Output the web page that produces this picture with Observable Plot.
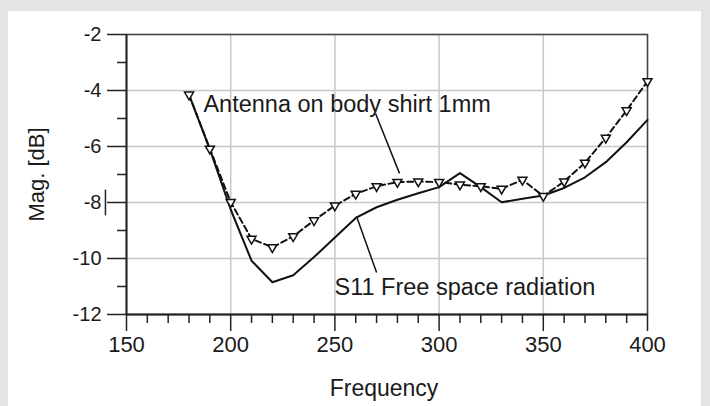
<!DOCTYPE html>
<html><head><meta charset="utf-8">
<script src="https://cdn.jsdelivr.net/npm/d3@7"></script>
<script src="https://cdn.jsdelivr.net/npm/@observablehq/plot@0.6"></script>
<style>
html,body{margin:0;padding:0;background:#e4e4e4;width:710px;height:406px;overflow:hidden;}
#panel{position:absolute;left:8px;top:11px;width:693px;height:395px;background:#fff;}
#chart{position:absolute;left:0;top:0;}
</style></head><body><div id="panel"></div><div id="chart"></div>
<script>
// Frequency samples
const freq = [180,190,200,210,220,230,240,250,260,270,280,290,300,310,320,330,340,350,360,370,380,390,400];
// Antenna on body shirt 1mm (dashed, triangles)
const onBody = [-4.15,-6.08,-7.99,-9.30,-9.60,-9.21,-8.64,-8.11,-7.69,-7.42,-7.27,-7.25,-7.27,-7.36,-7.42,-7.51,-7.19,-7.77,-7.25,-6.58,-5.69,-4.71,-3.67];
// S11 Free space radiation (solid)
const freeSpace = [-4.15,-6.10,-8.25,-10.08,-10.85,-10.60,-9.95,-9.25,-8.55,-8.17,-7.90,-7.67,-7.45,-6.95,-7.45,-7.99,-7.87,-7.75,-7.48,-7.10,-6.56,-5.85,-5.05];

// Ticks
const xMajor = [150,200,250,300,350,400];
const xLabels = ["150","200","250","300","350","400"];
const xMinor = [160,170,180,190,210,220,230,240,260,270,280,290,310,320,330,340,360,370,380,390];
const yMajor = [-2,-4,-6,-8,-10,-12];
const yLabels = ["-2","-4","-6","-8","-10","-12"];
const yMinor = [-3,-5,-7,-9,-11];

// Annotations (data coordinates)
const annText = ["Antenna on body shirt 1mm", "S11 Free space radiation"];
const annX = [186.9, 249.8];
const annY = [-4.51, -11.02];
const ptrX1 = [269.5, 260.4];
const ptrY1 = [-4.82, -8.50];
const ptrX2 = [281.0, 270.0];
const ptrY2 = [-6.96, -10.50];
const markX = [139.9];
const markY1 = [-7.54];
const markY2 = [-8.46];
const yTitle = ["Mag. [dB]"];
const yTitleY = [-7.0];
const xTitle = ["Frequency"];

const rows = freq.map((f, i) => ({f, body: onBody[i], free: freeSpace[i]}));
const font = "'Liberation Sans', Arial, sans-serif";

const plot = Plot.plot({
  width: 710, height: 406,
  marginLeft: 126, marginRight: 63, marginTop: 34, marginBottom: 92,
  style: {background: "transparent", fontFamily: font, color: "#1a1a1a", overflow: "visible"},
  x: {domain: [150, 400]},
  y: {domain: [-12, -2]},
  marks: [
    Plot.gridX(xMajor, {stroke: "#c8c8c8", strokeOpacity: 1, strokeWidth: 1.5}),
    Plot.gridY(yMajor, {stroke: "#c8c8c8", strokeOpacity: 1, strokeWidth: 1.5}),
    Plot.frame({stroke: "#444", strokeWidth: 1.5}),
    Plot.ruleX([150], {stroke: "#222", strokeWidth: 1.8}),
    Plot.ruleY([-12], {stroke: "#222", strokeWidth: 1.8}),
    Plot.axisY(yMinor, {tickSize: 9, tickFormat: () => "", label: null, strokeWidth: 1.5, stroke: "#222"}),
    Plot.axisY(yMajor, {tickSize: 19, tickPadding: 6, fontSize: 20, label: null, strokeWidth: 1.5, stroke: "#222",
      tickFormat: d => yLabels[yMajor.indexOf(d)]}),
    Plot.axisX(xMinor, {tickSize: 9, tickFormat: () => "", label: null, strokeWidth: 1.5, stroke: "#222"}),
    Plot.axisX(xMajor, {tickSize: 17, tickPadding: 5, fontSize: 22, label: null, strokeWidth: 1.5, stroke: "#222",
      tickFormat: d => xLabels[xMajor.indexOf(d)]}),
    Plot.link(markX, {x1: markX, x2: markX, y1: markY1, y2: markY2, stroke: "#222", strokeWidth: 1.5}),
    Plot.line(rows, {x: "f", y: "free", stroke: "#111", strokeWidth: 2}),
    Plot.line(rows, {x: "f", y: "body", stroke: "#111", strokeWidth: 2, strokeDasharray: "6,3.5"}),
    Plot.dot(rows, {x: "f", y: "body", symbol: "triangle2", r: 4.3, rotate: 180, fill: "white", stroke: "#111", strokeWidth: 1.5}),
    Plot.link(annText, {x1: ptrX1, y1: ptrY1, x2: ptrX2, y2: ptrY2, stroke: "#111", strokeWidth: 1.5}),
    Plot.text(annText, {x: annX, y: annY, text: d => d, textAnchor: "start", lineAnchor: "middle", fontSize: 23.5, fill: "#1a1a1a"}),
    Plot.text(xTitle, {frameAnchor: "bottom", lineAnchor: "top", dy: 65, dx: -3, fontSize: 23, fill: "#1a1a1a"}),
    Plot.text(yTitle, {frameAnchor: "left", y: yTitleY, rotate: -90, textAnchor: "middle", lineAnchor: "top", dx: -98, fontSize: 22, fill: "#1a1a1a"})
  ]
});
document.getElementById("chart").appendChild(plot);
</script>
</body></html>
